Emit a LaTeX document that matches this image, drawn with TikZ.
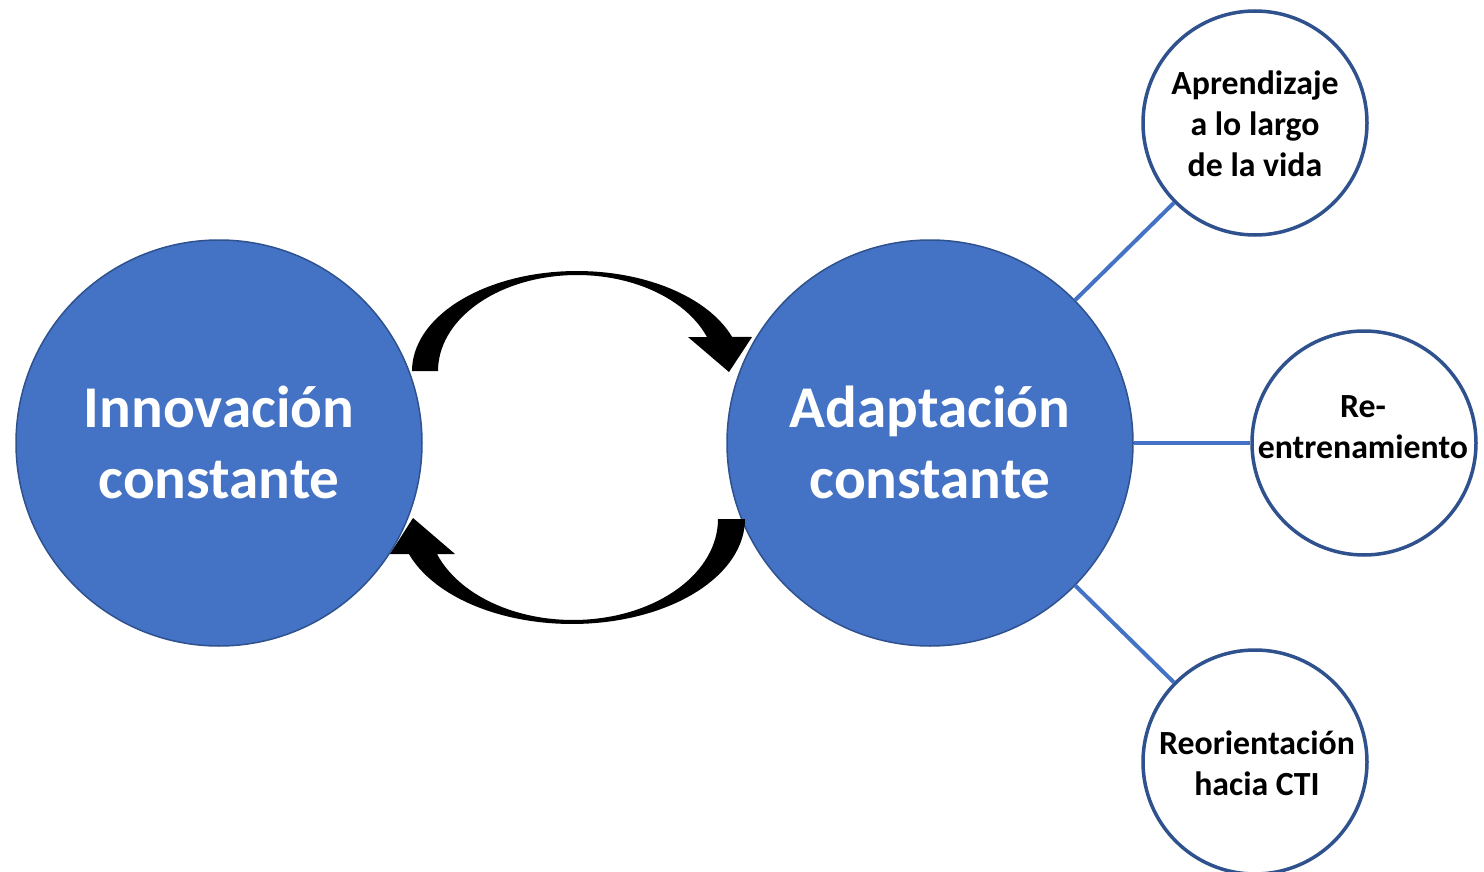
\documentclass[tikz,border=0pt]{standalone}
\usepackage{fontspec}
\setmainfont{Carlito}
\definecolor{fillblue}{HTML}{4472C4}
\definecolor{edgeblue}{HTML}{2F528F}
\begin{document}
\begin{tikzpicture}[x=0.5pt,y=-0.5pt,
  bigcirc/.style={circle, fill=fillblue, draw=edgeblue, line width=0.75pt, minimum size=203pt, inner sep=0pt},
  smallcirc/.style={circle, fill=white, draw=edgeblue, line width=1.75pt, minimum size=112pt, inner sep=0pt},
  bigtext/.style={text=white, font=\fontsize{29.6}{35.5}\selectfont\bfseries, align=center, inner sep=0pt},
  smalltext/.style={text=black, font=\fontsize{16.9}{20.5}\selectfont\bfseries, align=center, inner sep=0pt},
  conn/.style={draw=fillblue, line width=2pt}]
\useasboundingbox (0,0) rectangle (1484,872);
% big circles
\node[bigcirc] (inn) at (219,443) {};
\node[bigcirc] (ad) at (930,443) {};
% small circles
\node[smallcirc] (apr) at (1255,123) {};
\node[smallcirc] (ree) at (1364,443) {};
\node[smallcirc] (reo) at (1255,762) {};
% connectors
\draw[conn] (ad) -- (apr);
\draw[conn] (ad) -- (ree);
\draw[conn] (ad) -- (reo);
% texts
\node[bigtext] (inntxt) at (219,442) {Innovación\\constante};
\node[bigtext] (adtxt) at (930,442) {Adaptación\\constante};
\node[smalltext] (aprtxt) at (1255,124) {Aprendizaje\\a lo largo\\de la vida};
\node[smalltext] (reetxt) at (1363,427) {Re-\\entrenamiento};
\node[smalltext] (reotxt) at (1257,763) {Reorientación\\hacia CTI};
% curved arrows
\fill[black] (412,371) -- plot[domain=180:340.1,samples=60] ({577+165*cos(\x)},{371+100*sin(\x)})
  -- (752,337) -- (729,372) -- (688,337)
  -- plot[domain=339.3:180,samples=60] ({577+139*cos(\x)},{371+96*sin(\x)}) -- cycle;
\fill[black] (745,519) -- plot[domain=0:160.5,samples=60] ({572+173*cos(\x)},{519+105*sin(\x)})
  -- (390,554) -- (413,518) -- (455,554)
  -- plot[domain=159.7:0,samples=60] ({573+145*cos(\x)},{519+101*sin(\x)}) -- cycle;
\end{tikzpicture}
\end{document}
